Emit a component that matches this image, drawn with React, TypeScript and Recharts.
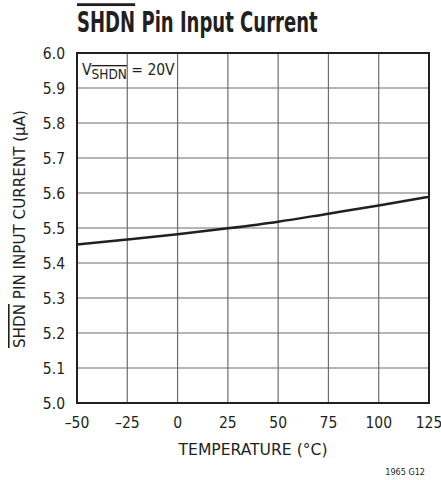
import { LineChart, Line, XAxis, YAxis, CartesianGrid, ReferenceArea, Label, Customized } from 'recharts'

const temps = [-50, -25, 0, 25, 50, 75, 100, 125]
const current = [5.453, 5.467, 5.482, 5.499, 5.518, 5.541, 5.564, 5.589]
const xTicks = [-50, -25, 0, 25, 50, 75, 100, 125]
const yTicks = [5.0, 5.1, 5.2, 5.3, 5.4, 5.5, 5.6, 5.7, 5.8, 5.9, 6.0]

const data = temps.map((t, i) => ({ t, i: current[i] }))

const FONT = "'Liberation Sans Narrow', 'DejaVu Sans Condensed', 'Roboto', sans-serif"
const INK = '#231f20'

function fmtTemp(v: number) {
  return v < 0 ? `\u2013${Math.abs(v)}` : `${v}`
}

function YTitle(props: any) {
  const vb = props.viewBox
  const cy = vb.y + vb.height / 2 + 1
  const cx = 19
  return (
    <text
      x={cx}
      y={cy}
      transform={`rotate(-90 ${cx} ${cy})`}
      textAnchor="middle"
      dominantBaseline="central"
      fontFamily={FONT}
      fontSize={16}
      textLength={238}
      lengthAdjust="spacingAndGlyphs"
      fill={INK}
    >
      <tspan style={{ textDecoration: 'overline' }}>SHDN</tspan>
      <tspan> PIN INPUT CURRENT (µA)</tspan>
    </text>
  )
}

function XTitle(props: any) {
  const vb = props.viewBox
  const cx = vb.x + vb.width / 2
  return (
    <text
      x={cx}
      y={vb.y + 52}
      textAnchor="middle"
      fontFamily={FONT}
      fontSize={16.5}
      textLength={149}
      lengthAdjust="spacingAndGlyphs"
      fill={INK}
    >
      TEMPERATURE (°C)
    </text>
  )
}

function Extras() {
  return (
    <g fontFamily={FONT} fill={INK}>
      {/* title, narrowed horizontally to look like the condensed face of the original */}
      <text transform="translate(77 32) scale(0.716 1)" x={0} y={0} fontSize={28} fontWeight="bold">
        <tspan style={{ textDecoration: 'overline' }}>SHDN</tspan>
        <tspan> Pin Input Current</tspan>
      </text>
      <text x={82} y={75} fontSize={15.5}>
        <tspan>V</tspan>
        <tspan dy={4} fontSize={13.5} style={{ textDecoration: 'overline' }}>SHDN</tspan>
        <tspan dy={-4}> = 20V</tspan>
      </text>
      <text x={425} y={475} fontSize={9} textAnchor="end">1965 G12</text>
    </g>
  )
}

export default function App() {
  return (
    <div style={{ position: 'absolute', left: 0, top: 0, width: 441, height: 480, background: '#fff' }}>
      <LineChart width={441} height={480} data={data} margin={{ top: 53, right: 12, left: 0, bottom: 0 }}>
        <CartesianGrid stroke="#6d6d6d" strokeWidth={1.2} />
        <XAxis
          dataKey="t"
          type="number"
          domain={[-50, 125]}
          ticks={xTicks}
          tickFormatter={fmtTemp}
          height={77}
          tickLine={false}
          tickSize={0}
          tickMargin={14}
          axisLine={false}
          tick={{ fontSize: 15.5, fill: INK, fontFamily: FONT }}
        >
          <Label content={XTitle} />
        </XAxis>
        <YAxis
          type="number"
          domain={[5.0, 6.0]}
          ticks={yTicks}
          tickFormatter={(v: number) => v.toFixed(1)}
          width={77}
          tickLine={false}
          tickSize={0}
          tickMargin={12}
          axisLine={false}
          tick={{ fontSize: 15.5, fill: INK, fontFamily: FONT }}
        >
          <Label content={YTitle} />
        </YAxis>
        <ReferenceArea x1={-50} x2={125} y1={5.0} y2={6.0} fill="none" stroke={INK} strokeWidth={2} ifOverflow="visible" />
        <Line type="monotone" dataKey="i" stroke={INK} strokeWidth={2.5} dot={false} isAnimationActive={false} />
        <Customized component={Extras} />
      </LineChart>
    </div>
  )
}
